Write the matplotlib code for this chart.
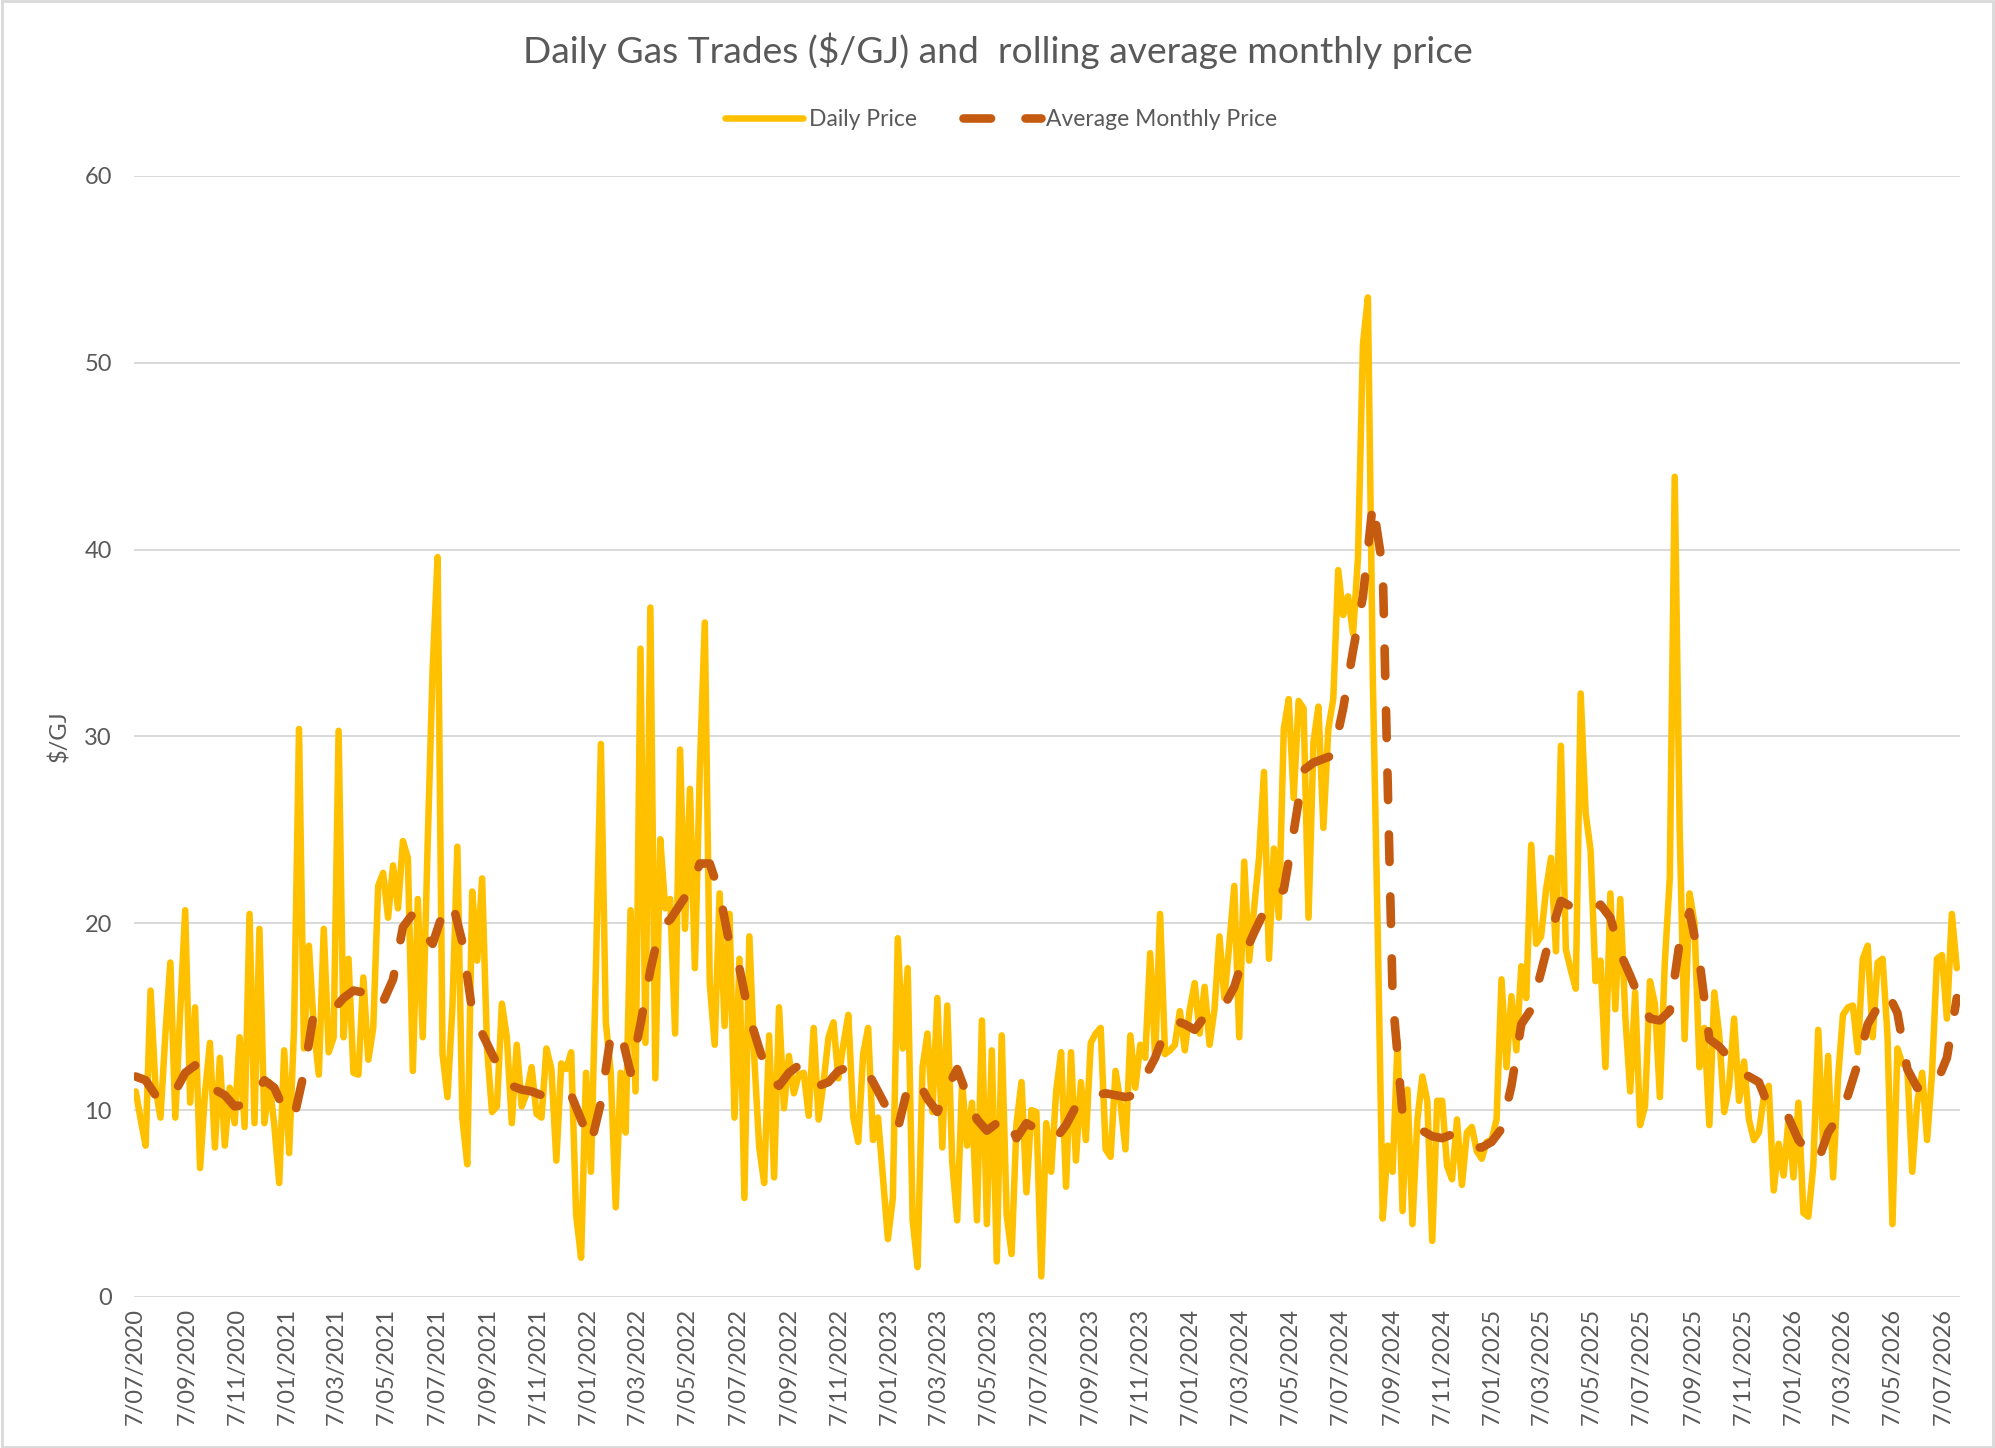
import matplotlib
matplotlib.use("Agg")
import matplotlib.pyplot as plt
from matplotlib.patches import Rectangle
import pandas as pd

# daily price, one reading every 6 days from 7/07/2020
daily_price = [
    11.0, 9.5, 8.1, 16.4, 11.2, 9.6, 14.1, 17.9, 9.6, 15.3,
    20.7, 10.4, 15.5, 6.9, 10.9, 13.6, 8.0, 12.8, 8.1, 11.2,
    9.3, 13.9, 9.1, 20.5, 9.3, 19.7, 9.3, 11.5, 9.2, 6.1,
    13.2, 7.7, 14.4, 30.4, 13.3, 18.8, 14.4, 11.9, 19.7, 13.1,
    13.9, 30.3, 13.9, 18.1, 12.0, 11.9, 17.1, 12.7, 14.4, 22.0,
    22.7, 20.3, 23.1, 20.8, 24.4, 23.5, 12.1, 21.3, 13.9, 24.3,
    33.6, 39.6, 13.0, 10.7, 15.5, 24.1, 9.6, 7.1, 21.7, 18.0,
    22.4, 13.3, 9.9, 10.2, 15.7, 13.9, 9.3, 13.5, 10.2, 10.9,
    12.3, 9.8, 9.6, 13.3, 12.2, 7.3, 12.5, 12.2, 13.1, 4.4,
    2.1, 12.0, 6.7, 17.6, 29.6, 14.7, 12.0, 4.8, 12.0, 8.8,
    20.7, 11.0, 34.7, 13.6, 36.9, 11.7, 24.5, 20.8, 21.3, 14.1,
    29.3, 19.7, 27.2, 17.6, 28.3, 36.1, 16.8, 13.5, 21.6, 14.5,
    20.5, 9.6, 18.1, 5.3, 19.3, 12.8, 8.0, 6.1, 14.0, 6.4,
    15.5, 10.1, 12.9, 10.9, 11.9, 12.0, 9.7, 14.4, 9.5, 11.5,
    13.9, 14.7, 11.7, 13.5, 15.1, 9.6, 8.3, 13.0, 14.4, 8.4,
    9.6, 6.4, 3.1, 5.3, 19.2, 13.3, 17.6, 4.1, 1.6, 12.3,
    14.1, 9.9, 16.0, 8.0, 15.6, 7.2, 4.1, 11.5, 8.1, 10.4,
    4.1, 14.8, 3.9, 13.2, 1.9, 14.0, 4.4, 2.3, 9.3, 11.5,
    5.6, 10.0, 9.9, 1.1, 9.3, 6.7, 11.0, 13.1, 5.9, 13.1,
    7.3, 11.5, 8.4, 13.6, 14.1, 14.4, 7.9, 7.5, 12.1, 10.4,
    7.9, 14.0, 11.2, 13.5, 12.8, 18.4, 12.8, 20.5, 13.0, 13.2,
    13.5, 15.3, 13.2, 15.4, 16.8, 14.1, 16.6, 13.5, 15.4, 19.3,
    16.0, 18.9, 22.0, 13.9, 23.3, 18.0, 20.8, 23.5, 28.1, 18.1,
    24.0, 20.3, 30.4, 32.0, 26.7, 31.9, 31.5, 20.3, 29.7, 31.6,
    25.1, 30.4, 32.0, 38.9, 36.5, 37.5, 35.5, 39.6, 51.0, 53.5,
    33.0, 19.3, 4.2, 8.1, 6.7, 13.7, 4.6, 11.1, 3.9, 9.5,
    11.8, 10.5, 3.0, 10.5, 10.5, 7.0, 6.3, 9.5, 6.0, 8.8,
    9.1, 7.8, 7.4, 8.3, 8.4, 9.5, 17.0, 12.3, 16.1, 13.2,
    17.7, 16.0, 24.2, 18.9, 19.3, 21.8, 23.5, 18.5, 29.5, 18.6,
    17.5, 16.5, 32.3, 25.9, 23.9, 16.9, 18.0, 12.3, 21.6, 15.4,
    21.3, 15.1, 11.0, 16.3, 9.2, 10.2, 16.9, 15.7, 10.7, 17.9,
    22.4, 43.9, 25.0, 13.8, 21.6, 20.0, 12.3, 14.4, 9.2, 16.3,
    14.0, 9.9, 11.3, 14.9, 10.5, 12.6, 9.5, 8.4, 8.8, 10.7,
    11.3, 5.7, 8.2, 6.5, 9.5, 6.4, 10.4, 4.5, 4.3, 7.0,
    14.3, 8.0, 12.9, 6.4, 11.7, 15.1, 15.5, 15.6, 13.1, 18.1,
    18.8, 13.9, 17.9, 18.1, 14.0, 3.9, 13.3, 12.5, 12.3, 6.7,
    10.4, 12.0, 8.4, 12.0, 18.1, 18.3, 14.9, 20.5, 17.6,
]

# rolling monthly average, one reading every 12 days from 7/07/2020
avg_price = [
    11.8, 11.6, 10.8, 10.4, 11.0, 12.0, 12.4, 11.6, 11.1, 10.8,
    10.2, 10.3, 10.8, 11.6, 11.2, 10.0, 9.6, 12.0, 15.2, 15.3,
    15.4, 16.0, 16.4, 16.3, 15.5, 15.8, 17.0, 19.8, 20.5, 19.5,
    18.9, 20.5, 21.1, 19.0, 15.3, 14.1, 13.0, 12.0, 11.3, 11.1,
    11.0, 10.8, 10.9, 11.0, 10.8, 9.5, 8.2, 10.4, 14.0, 14.2,
    12.0, 14.6, 17.5, 19.8, 20.2, 21.0, 21.8, 23.2, 23.2, 21.6,
    18.9, 17.6, 15.0, 13.3, 11.7, 11.3, 12.0, 12.4, 11.7, 11.3,
    11.5, 12.1, 12.3, 12.3, 12.0, 11.0, 10.0, 9.0, 11.2, 11.6,
    10.6, 9.9, 11.2, 12.2, 10.8, 9.5, 8.9, 9.3, 9.7, 8.5,
    9.3, 9.0, 8.7, 8.5, 9.2, 10.2, 10.7, 10.8, 10.9, 10.8,
    10.7, 10.8, 11.8, 12.8, 14.2, 14.8, 14.6, 14.3, 15.0, 15.3,
    15.6, 16.6, 18.3, 19.5, 20.6, 21.4, 21.8, 24.9, 28.2, 28.6,
    28.8, 29.0, 31.5, 34.6, 37.5, 42.5, 39.0, 16.0, 9.8, 9.0,
    8.9, 8.6, 8.5, 8.7, 8.2, 8.0, 8.0, 8.3, 9.0, 11.3,
    14.6, 15.4, 17.4, 19.5, 21.2, 20.9, 20.8, 20.6, 21.0, 20.3,
    18.4, 17.2, 15.9, 14.9, 14.8, 15.3, 19.0, 20.6, 18.0, 13.8,
    13.4, 12.8, 12.1, 11.8, 11.5, 10.2, 10.0, 9.6, 8.4, 7.8,
    7.3, 8.8, 9.6, 10.8, 12.5, 14.6, 15.5, 16.3, 15.2, 12.2,
    11.2, 11.0, 11.5, 12.8, 16.0,
]

y_ticks = [0, 10, 20, 30, 40, 50, 60]
tick_dates = pd.date_range("2020-07-01", "2026-07-01", freq="2MS") + pd.Timedelta(days=6)
tick_labels = [f"{d.day}/{d.month:02d}/{d.year}" for d in tick_dates]

daily_dates = pd.date_range("2020-07-07", periods=len(daily_price), freq="6D")
avg_dates = pd.date_range("2020-07-07", periods=len(avg_price), freq="12D")

GOLD = "#FFC000"
RUST = "#C55A11"
TXT = "#595959"
GRID = "#D9D9D9"

plt.rcParams["font.family"] = ["Lato", "DejaVu Sans"]

fig = plt.figure(figsize=(19.95, 14.48), dpi=100)
ax = fig.add_axes([0.0672, 0.1043, 0.9825 - 0.0672, 0.8785 - 0.1043])

ax.plot(daily_dates, daily_price, color=GOLD, lw=4.7, solid_capstyle="round",
        solid_joinstyle="round", label="Daily Price", zorder=2)
ax.plot(avg_dates, avg_price, color=RUST, lw=6.2, linestyle=(0, (3.2, 4.0)),
        dash_capstyle="round", dash_joinstyle="round",
        label="Average Monthly Price", zorder=3)

ax.set_ylim(0, 60)
ax.set_xlim(pd.Timestamp("2020-07-05"), pd.Timestamp("2026-07-28"))
ax.set_yticks(y_ticks)
ax.set_xticks(tick_dates)
ax.set_xticklabels(tick_labels, rotation=90)
ax.tick_params(axis="both", length=0, labelsize=17, colors=TXT)
ax.tick_params(axis="y", pad=16)
ax.tick_params(axis="x", pad=8)
ax.grid(axis="y", color=GRID, lw=1.4, zorder=0)
ax.set_axisbelow(True)
for s in ax.spines.values():
    s.set_visible(False)

ax.set_ylabel("$/GJ", fontsize=17, color=TXT, labelpad=10)

fig.suptitle("Daily Gas Trades ($/GJ) and  rolling average monthly price",
             fontsize=26.8, color=TXT, y=1 - 51 / 1448, va="center")

fig.legend(loc="center", bbox_to_anchor=(0.502, 1 - 120 / 1448), ncol=2,
           frameon=False, fontsize=16.5, labelcolor=TXT, handlelength=3.4,
           handletextpad=0.25, columnspacing=2.0)

fig.patches.append(Rectangle((0.001, 0.001), 0.998, 0.998, transform=fig.transFigure,
                             fill=False, edgecolor=GRID, lw=2))

fig.savefig("out.png", dpi=100)
